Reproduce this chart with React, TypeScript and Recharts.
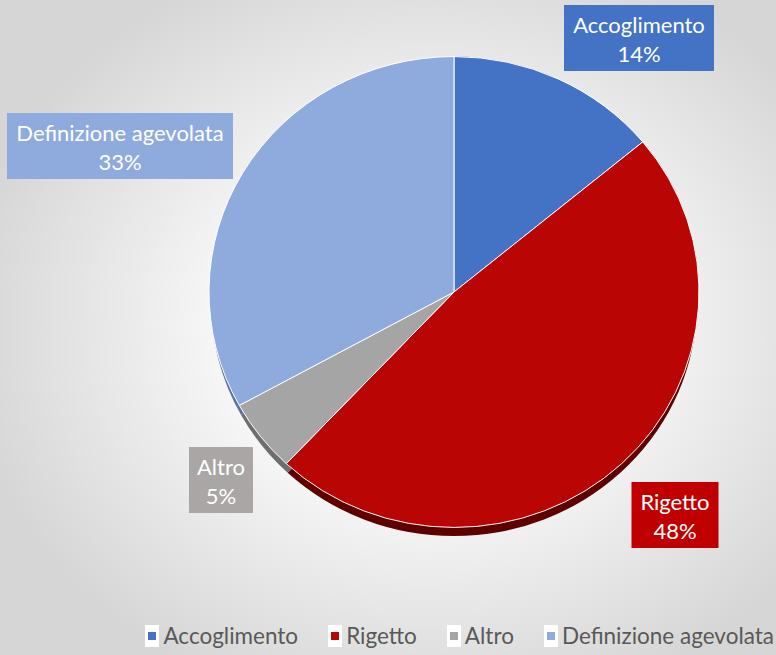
import React from 'react';
import { PieChart, Pie, Cell, Legend } from 'recharts';

const categories = ['Accoglimento', 'Rigetto', 'Altro', 'Definizione agevolata'];
const shares = [14, 48, 5, 33];

const data = categories.map((name, i) => ({ name, value: shares[i] }));

const colors = ['#4472C4', '#BA0505', '#A5A5A5', '#8FAADC'];
const boxColors = ['#4472C4', '#C00000', '#A9A6A5', '#8FAADC'];
const rimColors = ['#2b4a82', '#5e0000', '#6e6e6e', '#5d74a0'];

const CX = 454;
const CY = 292;

// label box placement relative to pie centre (dx, dy, width)
const labelBoxes: Record<string, [number, number, number]> = {
  Accoglimento: [185, -254, 150],
  Rigetto: [221, 223, 87],
  Altro: [-233, 188, 64],
  'Definizione agevolata': [-334, -146, 226],
};

const FONT = 'Lato, "Open Sans", sans-serif';

const renderLabel = (props: any) => {
  const { cx, cy, name, percent, index } = props;
  const box = labelBoxes[name];
  if (!box) return null;
  const [dx, dy, w] = box;
  const x = cx + dx;
  const y = cy + dy;
  const h = 66;
  return (
    <g>
      <rect x={x - w / 2} y={y - h / 2} width={w} height={h} fill={boxColors[index]} />
      <text x={x} y={y - 14} textAnchor="middle" dominantBaseline="central" fill="#fff" fontSize={22} fontFamily={FONT}>
        {name}
      </text>
      <text x={x} y={y + 15} textAnchor="middle" dominantBaseline="central" fill="#fff" fontSize={22} fontFamily={FONT}>
        {`${Math.round(percent * 100)}%`}
      </text>
    </g>
  );
};

const renderLegend = () => (
  <div style={{ display: 'flex', justifyContent: 'flex-end', alignItems: 'center', fontFamily: FONT, fontSize: 22.5, color: '#595959' }}>
    {categories.map((c, i) => (
      <div key={c} style={{ display: 'flex', alignItems: 'center', marginLeft: i === 0 ? 0 : 30 }}>
        <span style={{ display: 'inline-flex', alignItems: 'center', justifyContent: 'center', width: 14, height: 22, background: '#fff', marginRight: 4 }}>
          <span style={{ width: 8, height: 8, background: colors[i] }} />
        </span>
        <span>{c}</span>
      </div>
    ))}
  </div>
);

export default function App() {
  return (
    <div
      style={{
        position: 'absolute',
        left: 0,
        top: 0,
        width: 776,
        height: 655,
        background: 'radial-gradient(ellipse 60% 60% at 55% 50%, #ffffff 30%, #d6d6d6 100%)',
      }}
    >
      <style>{`.recharts-pie-sector { transform-origin: ${CX}px ${CY}px; transform: scaleY(0.961); }`}</style>
      <PieChart width={776} height={655} margin={{ top: 0, right: 0, bottom: 0, left: 0 }}>
        <Pie
          data={data}
          dataKey="value"
          nameKey="name"
          cx={CX}
          cy={CY + 11}
          outerRadius={243}
          startAngle={90}
          endAngle={-270}
          stroke="none"
          isAnimationActive={false}
          legendType="none"
        >
          {data.map((d, i) => (
            <Cell key={`rim-${i}`} fill={rimColors[i]} />
          ))}
        </Pie>
        <Pie
          data={data}
          dataKey="value"
          nameKey="name"
          cx={CX}
          cy={CY}
          outerRadius={245}
          startAngle={90}
          endAngle={-270}
          stroke="#ffffff"
          strokeWidth={1}
          labelLine={false}
          label={renderLabel}
          isAnimationActive={false}
        >
          {data.map((d, i) => (
            <Cell key={`cell-${i}`} fill={colors[i]} />
          ))}
        </Pie>
        <Legend
          content={renderLegend}
          wrapperStyle={{ position: 'absolute', left: 0, top: 622, width: 774, height: 30 }}
        />
      </PieChart>
    </div>
  );
}
